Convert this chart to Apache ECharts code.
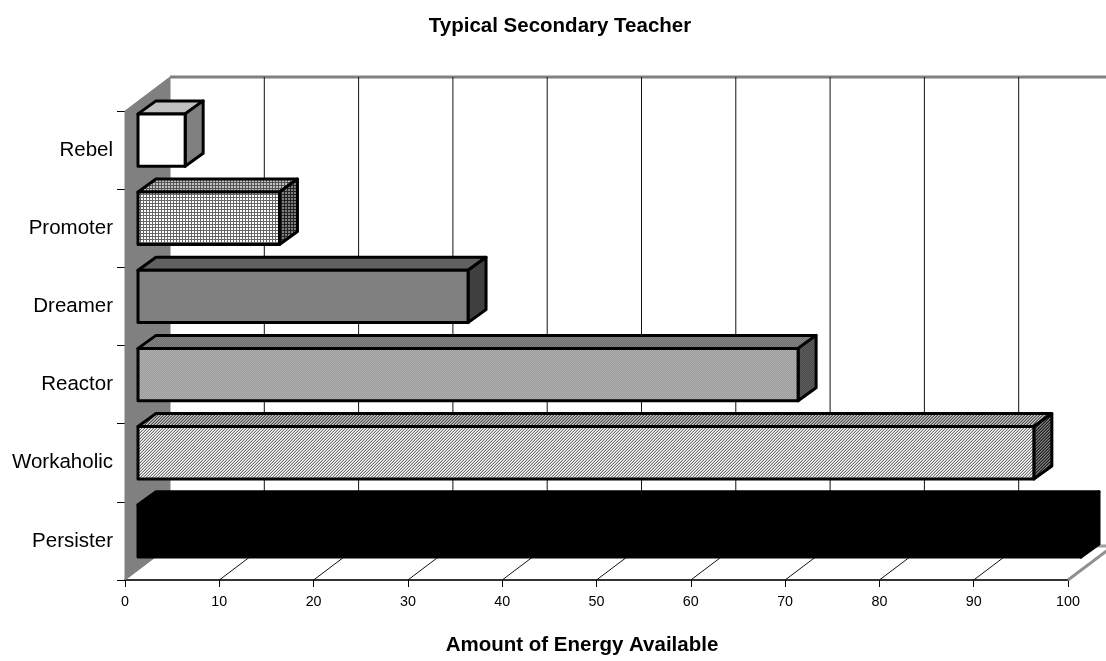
<!DOCTYPE html>
<html><head><meta charset="utf-8">
<style>html,body{margin:0;padding:0;background:#fff}#c{width:1106px;height:661px}</style>
<script src="https://cdn.jsdelivr.net/npm/echarts@6/dist/echarts.min.js"></script>
</head><body><div id="c"></div>
<script>
const categories = ['Persister','Workaholic','Reactor','Dreamer','Promoter','Rebel'];
const energy = [100,95,70,35,15,5];
const xTicks = [0,10,20,30,40,50,60,70,80,90,100];
const chartTitle = 'Typical Secondary Teacher';
const axisTitle = 'Amount of Energy Available';

// oblique projection offsets (presentation only)
const WALL_DX = 45, WALL_DY = -34;
const BAR_DX = 13, BAR_DY = -10;
const DEPTH_DX = 18, DEPTH_DY = -13;
const BAR_BAND = 0.67;

function pat(w, h, rows){
  const c = document.createElement('canvas'); c.width = w; c.height = h;
  const g = c.getContext('2d');
  for (let y = 0; y < h; y++) for (let x = 0; x < w; x++){
    g.fillStyle = rows(x, y); g.fillRect(x, y, 1, 1);
  }
  return {image: c, repeat: 'repeat'};
}
const grid3 = (a, b) => pat(3, 3, (x, y) => (x === 2 || y === 2) ? b : a);
const check = (a, b) => pat(2, 2, (x, y) => (x + y) % 2 ? a : b);
const diag = (a, b, c) => pat(3, 3, (x, y) => [a, b, c][(x + y) % 3]);

const faces = [
  {front:'#000', top:'#000', side:'#000'},
  {front:diag('#fff','#c8c8c8','#707070'), top:diag('#c8c8c8','#909090','#505050'), side:diag('#808080','#505050','#202020')},
  {front:check('#9a9a9a','#b0b0b0'), top:check('#6e6e6e','#868686'), side:check('#4c4c4c','#5c5c5c')},
  {front:'#808080', top:'#606060', side:'#404040'},
  {front:grid3('#fff','#666'), top:grid3('#c0c0c0','#555'), side:grid3('#808080','#222')},
  {front:'#fff', top:'#c0c0c0', side:'#808080'}
];

const chart = echarts.init(document.getElementById('c'), null, {renderer:'canvas'});

function wallItem(params, api){
  const t = api.value(0);
  const a = api.coord([t, 0]);
  const x = a[0], yBottom = params.coordSys.y + params.coordSys.height;
  const yTop = params.coordSys.y;
  const kids = [];
  const lineStyle = {stroke:'#111', lineWidth:1};
  if (params.dataIndex === 0){
    kids.push({type:'polygon', shape:{points:[[x,yTop],[x+WALL_DX,yTop+WALL_DY],[x+WALL_DX,yBottom+WALL_DY],[x,yBottom]]}, style:{fill:'#808080', stroke:'#808080', lineWidth:1}});
    const right = params.coordSys.x + params.coordSys.width;
    kids.push({type:'line', shape:{x1:x+WALL_DX,y1:yTop+WALL_DY,x2:right+WALL_DX,y2:yTop+WALL_DY}, style:{stroke:'#808080', lineWidth:3}});
    kids.push({type:'line', shape:{x1:right,y1:yBottom,x2:right+WALL_DX,y2:yBottom+WALL_DY}, style:{stroke:'#909090', lineWidth:3}});
    kids.push({type:'line', shape:{x1:x+WALL_DX,y1:yBottom+WALL_DY,x2:right+WALL_DX,y2:yBottom+WALL_DY}, style:{stroke:'#a0a0a0', lineWidth:3}});
  } else {
    kids.push({type:'line', shape:{x1:x+WALL_DX,y1:yTop+WALL_DY,x2:x+WALL_DX,y2:yBottom+WALL_DY}, style:lineStyle});
    if (t < 100) kids.push({type:'line', shape:{x1:x,y1:yBottom,x2:x+WALL_DX,y2:yBottom+WALL_DY}, style:lineStyle});
  }
  return {type:'group', children:kids};
}

function barItem(params, api){
  const v = api.value(0), cat = api.value(1);
  const zero = api.coord([0, cat]), end = api.coord([v, cat]);
  const h = api.size([0, 1])[1] * BAR_BAND;
  const l = zero[0] + BAR_DX, r = end[0] + BAR_DX;
  const t = zero[1] + BAR_DY - h / 2, b = zero[1] + BAR_DY + h / 2;
  const f = faces[params.dataIndex];
  const edge = {stroke:'#000', lineWidth:3, lineJoin:'round'};
  return {type:'group', children:[
    {type:'polygon', shape:{points:[[l,t],[l+DEPTH_DX,t+DEPTH_DY],[r+DEPTH_DX,t+DEPTH_DY],[r,t]]}, style:Object.assign({fill:f.top}, edge)},
    {type:'polygon', shape:{points:[[r,t],[r+DEPTH_DX,t+DEPTH_DY],[r+DEPTH_DX,b+DEPTH_DY],[r,b]]}, style:Object.assign({fill:f.side}, edge)},
    {type:'polygon', shape:{points:[[l,t],[r,t],[r,b],[l,b]]}, style:Object.assign({fill:f.front}, edge)}
  ]};
}

chart.setOption({
  animation:false,
  backgroundColor:'#fff',
  title:{text:chartTitle, left:555, top:11, textAlign:'center',
    textStyle:{fontFamily:'Liberation Sans', fontSize:20.5, fontWeight:'bold', color:'#000'}},
  grid:{left:125, top:111, width:943, height:469, containLabel:false},
  xAxis:{type:'value', min:0, max:100, interval:10,
    name:axisTitle, nameLocation:'middle', nameGap:55, nameMoveOverlap:false,
    nameTextStyle:{fontFamily:'Liberation Sans', fontSize:20.5, fontWeight:'bold', color:'#000', padding:[0,0,0,-29]},
    axisLine:{show:true, lineStyle:{color:'#333', width:2}},
    axisTick:{show:true, length:7, lineStyle:{color:'#000', width:1}},
    axisLabel:{fontFamily:'Liberation Sans', fontSize:14.3, color:'#000', margin:15},
    splitLine:{show:false}},
  yAxis:{type:'category', data:categories,
    axisLine:{show:true, onZero:false, lineStyle:{color:'#333', width:1}},
    axisTick:{show:true, length:8, alignWithLabel:false, lineStyle:{color:'#000', width:1}},
    axisLabel:{fontFamily:'Liberation Sans', fontSize:20.5, color:'#000', margin:12},
    splitLine:{show:false}},
  series:[
    {type:'custom', name:'walls', coordinateSystem:'cartesian2d', silent:true, clip:false, z:1,
     encode:{x:0}, data:xTicks.map(t=>[t,0]), renderItem:wallItem},
    {type:'custom', name:'energy', coordinateSystem:'cartesian2d', silent:true, clip:false, z:3,
     encode:{x:0,y:1}, data:energy.map((v,i)=>[v,i]), renderItem:barItem}
  ]
});
</script></body></html>
